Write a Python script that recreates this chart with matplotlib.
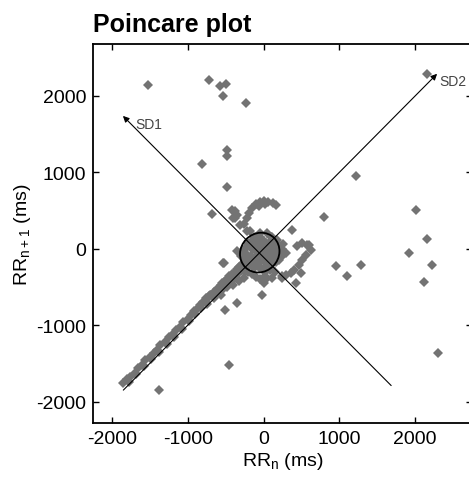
import matplotlib
matplotlib.use('Agg')
import matplotlib.pyplot as plt
from matplotlib.patches import Ellipse

plt.rcParams['font.family'] = ['Liberation Sans', 'DejaVu Sans']
plt.rcParams['mathtext.default'] = 'regular'
plt.rcParams['axes.unicode_minus'] = False

# RR_n / RR_n+1 (ms) - outliers
x_out = [-1526, -724, -579, -500, -539, -237, -487, -487, -816, -487, -684,
         1224, 803, 382, 2013, 2158, 1921, 2224, 2118, 960, 1105, 1289, 2303, 2158,
         -1382, -460, -513, -355, -26, -520, -355, -540]
y_out = [2144, 2209, 2131, 2157, 2000, 1908, 1294, 1216, 1111, 810, 457,
         954, 418, 248, 510, 131, -52, -209, -431, -222, -353, -209, -1359, 2288,
         -1843, -1516, -797, -706, -601, -190, -26, -183]

# diagonal band (lower-left towards centre)
x_diag = [-1860, -1800, -1760, -1700, -1650, -1600, -1560, -1500, -1450, -1400,
          -1360, -1300, -1250, -1200, -1160, -1100, -1060, -1000, -960, -920,
          -880, -840, -800, -760, -720, -690, -650, -620, -580, -550,
          -520, -480, -450, -420, -380, -350, -320, -290, -260, -230,
          -1780, -1680, -1580, -1480, -1380, -1280, -1180, -1080, -980, -900,
          -820, -740, -660, -600, -540, -480, -420, -360, -300, -250,
          -700, -620, -560, -480, -400, -330, -260, -200, -150, -100, -50, 0, 20, 50,
          -760, -640, -560, -500, -440, -380, -320, -280, -240, -200]
y_diag = [-1760, -1700, -1680, -1620, -1560, -1520, -1460, -1420, -1360, -1320,
          -1260, -1220, -1160, -1120, -1060, -1020, -960, -920, -870, -820,
          -790, -740, -700, -680, -620, -600, -560, -520, -500, -450,
          -430, -390, -360, -330, -300, -260, -240, -200, -180, -140,
          -1740, -1640, -1540, -1440, -1350, -1240, -1150, -1050, -950, -860,
          -780, -720, -640, -570, -520, -460, -400, -350, -290, -240,
          -600, -560, -600, -500, -480, -420, -380, -300, -330, -370, -400, -450, -300, -380,
          -640, -620, -480, -420, -440, -380, -300, -260, -300, -220]

# central blob inside the ellipse
x_blob = [-130, -50, 110,
          -210, -130, -50, 30, 110, 170,
          -270, -110, -30, 50, 130, 190,
          -250, -170, -90, -10, 70, 150, 200,
          -210, -130, -50, 30, 110, 160,
          -130, -50, 30, 100]
y_blob = [150, 150, 150,
          70, 70, 70, 70, 70, 70,
          -10, -10, -10, -10, -10, -10,
          -90, -90, -90, -90, -90, -90, -90,
          -170, -170, -170, -170, -170, -170,
          -250, -250, -250, -250]

# surroundings of the centre, upper arc, streaks
x_core = [-250, -200, -150, -100, -50, 50, 100, 150, 200, 250, 200, 150, 100, 50,
          0, -50, -100, -150, -200, -250, -100, 0, 100, 0, 0, -50, 50, 50, -50,
          100, -100, 150, -150, 0, 100, -80, 200, 180, -200, -250, -300, 260, 240,
          -260, -224, -190, -150, -100, -50, 0, 60, 120, 170, -60, 20,
          -421, -408, -382, -382, -355, -316, -224, -184, -145,
          447, 513, 579, 632, 566, 513, 474, 408, 368, 300, 250, 500, 434, 605, 300,
          -13, 118, 250, 150, 80]
y_core = [0, 50, 100, 150, 200, 200, 150, 100, 50, 0, -50, -100, -150, -200,
          -250, -250, -200, -150, -100, -50, 0, 0, 0, 100, -100, 50, 50, -50, -50,
          100, -100, 0, 0, -150, -80, 100, -150, 120, -200, -150, -100, 60, -100,
          330, 400, 470, 540, 590, 610, 620, 610, 600, 570, 560, 590,
          510, 405, 497, 405, 444, 314, 235, 235, 118,
          39, 78, 52, -13, -78, -144, -209, -274, -314, -340, -353, -314, -444, 52, -52,
          -379, -379, -379, -300, -280]

# SD1 / SD2 axes
sd1_start, sd1_end = (1684, -1790), (-1855, 1739)
sd2_start, sd2_end = (-1850, -1850), (2290, 2290)
centre = (-50, -50)
sd1, sd2 = 250, 270

fig = plt.figure(figsize=(4.69, 4.85), dpi=100)
ax = fig.add_axes([0.1983, 0.1258, 0.808, 0.7814])

pts_x = x_out + x_diag + x_blob + x_core
pts_y = y_out + y_diag + y_blob + y_core
ax.plot(pts_x, pts_y, 'D', color='#737373', markersize=5.5, markeredgewidth=0, zorder=2)

arrow = dict(arrowstyle='-|>', lw=0.8, color='black', mutation_scale=9, shrinkA=0, shrinkB=0)
ax.annotate('', xy=sd1_end, xytext=sd1_start, arrowprops=arrow, zorder=3)
ax.annotate('', xy=sd2_end, xytext=sd2_start, arrowprops=arrow, zorder=3)
ax.text(sd1_end[0] + 170, sd1_end[1] - 100, 'SD1', fontsize=10, color='#444444', va='center')
ax.text(sd2_end[0] + 30, sd2_end[1] - 90, 'SD2', fontsize=10, color='#444444', va='center')
ax.add_patch(Ellipse(centre, 2 * sd2, 2 * sd1, angle=45, fill=False, lw=1.3, color='black', zorder=4))

ax.set_xlim(-2250, 2750)
ax.set_ylim(-2280, 2680)
ax.set_xticks([-2000, -1000, 0, 1000, 2000])
ax.set_yticks([-2000, -1000, 0, 1000, 2000])
ax.tick_params(direction='in', top=True, right=True, length=4, width=1, labelsize=14, pad=5)
for s in ax.spines.values():
    s.set_linewidth(1.3)

ax.set_xlabel('RR$_n$ (ms)', fontsize=14, labelpad=2)
ax.set_ylabel('RR$_{n+1}$ (ms)', fontsize=14, labelpad=2)
fig.text(93 / 469, 1 - 32 / 485, 'Poincare plot', fontsize=18, fontweight='bold', ha='left', va='baseline')

fig.savefig('out.png', dpi=100)
